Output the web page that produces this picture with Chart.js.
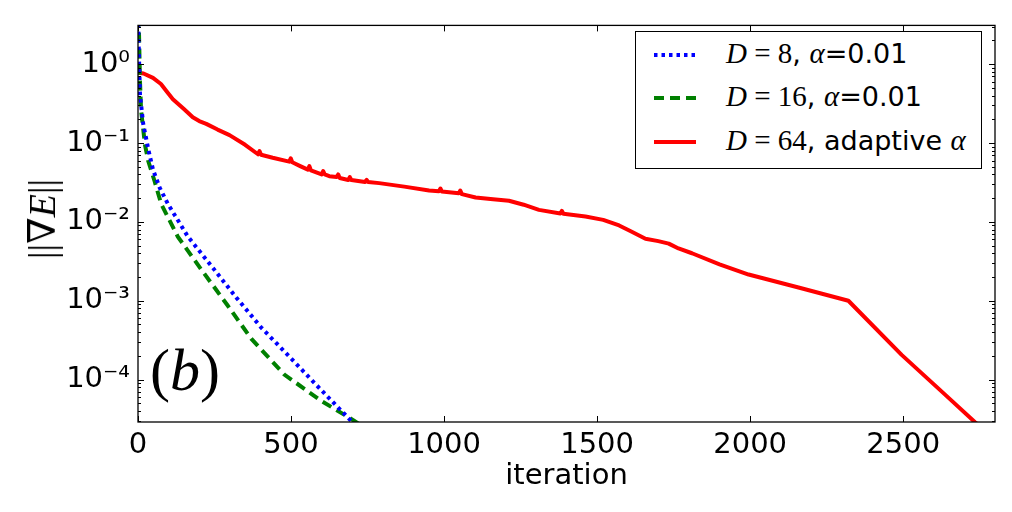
<!DOCTYPE html>
<html>
<head>
<meta charset="utf-8">
<script src="https://cdn.jsdelivr.net/npm/chart.js@4/dist/chart.umd.min.js"></script>
<style>
  body { margin: 0; background: #fff; }
  #wrap { position: relative; width: 1012px; height: 512px; }
  #ylab { position: absolute; left: 42px; top: 219px; transform: translate(-50%, -50%) rotate(-90deg);
          font: 38px "Liberation Serif", "DejaVu Serif", serif; white-space: nowrap; }
  #tag { position: absolute; left: 150px; top: 340px; font: 60px "Liberation Serif", serif; line-height: 1; }
  .it { font-style: italic; }
  #legend { position: absolute; left: 635px; top: 31px; width: 345px; height: 136px;
            border: 1.2px solid #000; background: #fff; }
  .row { position: absolute; left: 0; height: 30px; font: 27px "DejaVu Sans", sans-serif; white-space: nowrap; }
  .row svg { position: absolute; left: 17px; top: 7px; }
  .row span.txt { position: absolute; left: 90px; top: -3px; }
  .m { font-family: "Liberation Serif", "DejaVu Serif", serif; font-size: 29px; }
</style>
</head>
<body>
<div id="wrap">
  <canvas id="myChart" width="1012" height="512"></canvas>
  <div id="ylab">||∇<span class="it">E</span>||</div>
  <div id="tag">(<span class="it">b</span>)</div>
  <div id="legend">
    <div class="row" style="top:8px">
      <svg width="44" height="16"><line x1="1" y1="8" x2="43" y2="8" stroke="#0000ff" stroke-width="4" stroke-dasharray="3.5 4"/></svg>
      <span class="txt"><span class="m it">D</span><span class="m"> = 8</span>, <span class="m it">α</span>=0.01</span>
    </div>
    <div class="row" style="top:51px">
      <svg width="44" height="16"><line x1="1" y1="8" x2="43" y2="8" stroke="#008000" stroke-width="4" stroke-dasharray="10 6"/></svg>
      <span class="txt"><span class="m it">D</span><span class="m"> = 16</span>, <span class="m it">α</span>=0.01</span>
    </div>
    <div class="row" style="top:95px">
      <svg width="44" height="16"><line x1="1" y1="8" x2="43" y2="8" stroke="#ff0000" stroke-width="4"/></svg>
      <span class="txt"><span class="m it">D</span><span class="m"> = 64</span>, adaptive <span class="m it">α</span></span>
    </div>
  </div>
</div>
<script>
// values (iteration, ||grad E||)
const iterD8 = [0, 3, 6.5, 17, 34, 49, 71, 98, 163, 245, 321, 402, 489, 576, 663, 700, 720];
const gradD8 = [4, 1.3, 0.41, 0.175, 0.082, 0.046, 0.027, 0.0168, 0.0065, 0.0026, 0.0011, 4.6e-4, 2.06e-4, 9.1e-5, 4.07e-5, 2.9e-5, 2.5e-5];

const iterD16 = [0, 3, 6.5, 10, 23, 33, 54, 76, 130, 207, 293, 370, 478, 598, 707, 730];
const gradD16 = [4, 2.8, 0.61, 0.26, 0.094, 0.06, 0.033, 0.0168, 0.0065, 0.00248, 8.7e-4, 3.3e-4, 1.16e-4, 5.4e-5, 3.0e-5, 2.6e-5];

// small bumps on the red curve are kept as (before, peak, after) triples
const iterD64 = [0, 18, 49, 75, 92, 114, 150, 179, 200, 223, 260, 299, 350, 392, 397, 402, 440, 494, 499, 504, 530,
  555, 560, 565, 600, 605, 610, 625, 649, 654, 659, 687, 692, 697, 742, 747, 752, 788, 870, 951,
  983, 988, 993, 1048, 1053, 1058, 1103, 1160, 1212, 1260, 1310, 1380, 1385, 1390, 1462, 1520, 1572, 1610, 1658, 1700, 1734,
  1766, 1810, 1900, 1995, 2158, 2321, 2495, 2636, 2734, 2760];
const gradD64 = [0.78, 0.76, 0.67, 0.56, 0.46, 0.36, 0.27, 0.212, 0.19, 0.175, 0.148, 0.126, 0.095, 0.072, 0.079, 0.071, 0.065, 0.058, 0.064, 0.057, 0.051,
  0.046, 0.051, 0.045, 0.040, 0.044, 0.040, 0.038, 0.037, 0.040, 0.036, 0.034, 0.037, 0.034, 0.032, 0.034, 0.032, 0.031, 0.028, 0.025,
  0.0245, 0.0265, 0.0243, 0.023, 0.025, 0.0225, 0.0204, 0.0193, 0.0185, 0.0165, 0.0142, 0.0128, 0.0138, 0.0127, 0.0117, 0.0106, 0.009, 0.0076, 0.0061, 0.0057, 0.0053,
  0.0046, 0.0040, 0.0029, 0.00215, 0.00147, 0.001, 2.06e-4, 6.5e-5, 2.9e-5, 2.4e-5];

const xTicks = [0, 500, 1000, 1500, 2000, 2500];
const yTicks = [1e-4, 1e-3, 1e-2, 1e-1, 1];

const sup = {'0': '⁰', '1': '¹', '2': '²', '3': '³', '4': '⁴', '5': '⁵', '-': '⁻'};
const pow10 = v => {
  const e = Math.round(Math.log10(v));
  return '10' + String(e).split('').map(c => sup[c]).join('');
};
const pts = (xs, ys) => xs.map((x, i) => ({x: x, y: ys[i]}));

// matplotlib style inward ticks + frame
const frame = {
  id: 'frame',
  afterDraw(chart) {
    const {ctx, chartArea: a, scales: {x, y}} = chart;
    ctx.save();
    ctx.strokeStyle = '#000';
    ctx.lineWidth = 1.3;
    ctx.strokeRect(a.left, a.top, a.right - a.left, a.bottom - a.top);
    ctx.lineWidth = 1;
    ctx.beginPath();
    x.ticks.forEach(t => {
      const px = Math.round(x.getPixelForValue(t.value)) + 0.5;
      ctx.moveTo(px, a.bottom); ctx.lineTo(px, a.bottom - 6);
      ctx.moveTo(px, a.top); ctx.lineTo(px, a.top + 6);
    });
    for (let k = -5; k <= 0; k++) {
      for (let m = 1; m <= 9; m++) {
        const v = m * Math.pow(10, k);
        if (v < y.min || v > y.max) continue;
        const py = Math.round(y.getPixelForValue(v)) + 0.5;
        const len = m === 1 ? 6 : 3;
        ctx.moveTo(a.left, py); ctx.lineTo(a.left + len, py);
        ctx.moveTo(a.right, py); ctx.lineTo(a.right - len, py);
      }
    }
    ctx.stroke();
    ctx.restore();
  }
};

const ctx = document.getElementById('myChart');

new Chart(ctx, {
  type: 'line',
  data: {
    datasets: [
      {
        label: 'D=8, α=0.01',
        data: pts(iterD8, gradD8),
        borderColor: '#0000ff',
        borderWidth: 4,
        borderDash: [3.5, 4],
        pointRadius: 0,
        tension: 0
      },
      {
        label: 'D=16, α=0.01',
        data: pts(iterD16, gradD16),
        borderColor: '#008000',
        borderWidth: 4,
        borderDash: [10, 6],
        pointRadius: 0,
        tension: 0
      },
      {
        label: 'D=64, adaptive α',
        data: pts(iterD64, gradD64),
        borderColor: '#ff0000',
        borderWidth: 4,
        borderJoinStyle: 'round',
        pointRadius: 0,
        tension: 0
      }
    ]
  },
  options: {
    responsive: false,
    animation: false,
    layout: { padding: { top: 18, right: 17, left: 0, bottom: 0 } },
    plugins: { legend: { display: false }, tooltip: { enabled: false } },
    scales: {
      x: {
        type: 'linear',
        min: 0,
        max: 2800,
        grid: { display: false, drawTicks: false },
        border: { display: false },
        afterBuildTicks: s => { s.ticks = xTicks.map(v => ({value: v})); },
        afterFit: s => { s.height = 90; },
        ticks: {
          padding: 6,
          maxRotation: 0,
          color: '#000',
          font: { family: 'DejaVu Sans', size: 29 },
          callback: v => String(v)
        },
        title: {
          display: true,
          text: 'iteration',
          color: '#000',
          font: { family: 'DejaVu Sans', size: 29 },
          padding: { top: 0, bottom: 18 }
        }
      },
      y: {
        type: 'logarithmic',
        min: 2.9e-5,
        max: 3.1,
        grid: { display: false, drawTicks: false },
        border: { display: false },
        afterBuildTicks: s => { s.ticks = yTicks.map(v => ({value: v})); },
        afterFit: s => { s.width = 138; },
        ticks: {
          padding: 8,
          color: '#000',
          font: { family: 'DejaVu Sans', size: 29 },
          callback: v => pow10(v)
        }
      }
    }
  },
  plugins: [frame]
});
</script>
</body>
</html>
